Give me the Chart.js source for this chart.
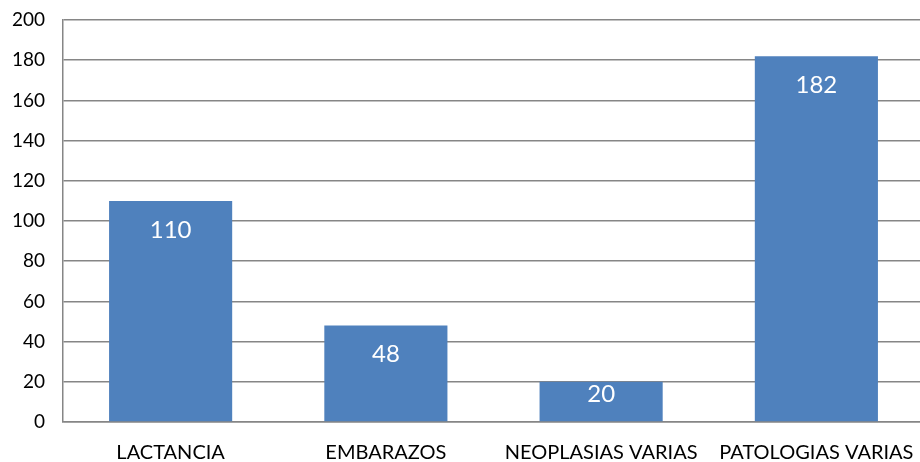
<!DOCTYPE html>
<html>
<head>
<meta charset="utf-8">
<script src="https://cdn.jsdelivr.net/npm/chart.js@4/dist/chart.umd.min.js"></script>
<style>
html,body{margin:0;padding:0;background:#fff;overflow:hidden;}
#wrap{position:relative;width:924px;height:462px;}
</style>
</head>
<body>
<div id="wrap"><canvas id="c" width="924" height="462"></canvas></div>
<script>
const categories = ["LACTANCIA", "EMBARAZOS", "NEOPLASIAS VARIAS", "PATOLOGIAS VARIAS"];
const values = [110, 48, 20, 182];
const yMin = 0, yMax = 200, yStep = 20;

const valueLabels = {
  id: 'valueLabels',
  afterDatasetsDraw(chart) {
    const ctx = chart.ctx;
    const meta = chart.getDatasetMeta(0);
    ctx.save();
    ctx.fillStyle = '#ffffff';
    ctx.font = '24px Lato';
    ctx.textAlign = 'center';
    ctx.textBaseline = 'middle';
    meta.data.forEach((bar, i) => {
      const y = Math.min(bar.y + 29, bar.base - 27);
      ctx.fillText(String(values[i]), bar.x, y);
    });
    ctx.restore();
  }
};

new Chart(document.getElementById('c'), {
  type: 'bar',
  data: {
    labels: categories,
    datasets: [{
      data: values,
      backgroundColor: '#4F81BD',
      borderWidth: 0,
      barPercentage: 0.572,
      categoryPercentage: 1.0
    }]
  },
  options: {
    responsive: false,
    animation: false,
    devicePixelRatio: 1,
    layout: { padding: { top: 20, right: 0, left: 0, bottom: 0 } },
    plugins: { legend: { display: false }, tooltip: { enabled: false } },
    scales: {
      x: {
        grid: { display: false, drawTicks: false },
        border: { display: true, color: '#868686', width: 1.5 },
        ticks: { color: '#000', font: { family: 'Lato', size: 20 }, padding: 19, maxRotation: 0, autoSkip: false },
        afterFit(s) { s.height = 40; s.paddingLeft = 0; s.paddingRight = 0; }
      },
      y: {
        min: yMin, max: yMax,
        grid: { color: '#868686', lineWidth: 1.5, drawTicks: false },
        border: { display: true, color: '#868686', width: 1.5 },
        ticks: { stepSize: yStep, color: '#000', font: { family: 'Lato', size: 19 }, padding: 18 },
        afterFit(s) { s.width = 63; s.paddingTop = 0; s.paddingBottom = 0; }
      }
    }
  },
  plugins: [valueLabels]
});
</script>
</body>
</html>
